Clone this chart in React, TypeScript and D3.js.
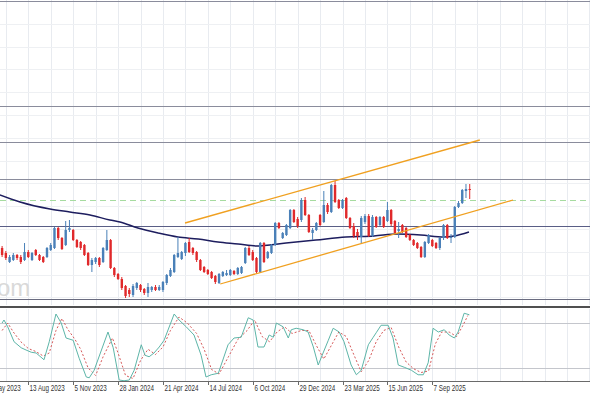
import React from 'react';
import * as d3 from 'd3';

const W = 590;
const H = 393;
const START = Date.UTC(2023, 5, 25);
const WEEK = 7 * 864e5;

// Weekly candles (price units)
const opens = [72,67,58,60,65,63,60,68,60,70,65,63,63,70,72,92,82,75,90,90,80,78,75,67,55,58,62,58,70,80,52,46,41,34,30,25,32,35,31,27,30,33,30,30,37,44,48,63,61,67,78,72,68,60,53,50,48,44,37,44,45,45,49,46,47,57,72,68,62,48,77,62,67,75,97,82,85,92,110,101,100,120,105,87,90,105,98,115,108,135,120,112,122,102,94,88,83,98,104,84,103,95,103,99,110,99,89,95,92,85,80,77,73,63,77,80,77,72,82,95,82,83,113,117,129,131];
const highs = [74,69,65,67,66,65,77,70,68,71,66,64,73,77,93,93,83,99,100,91,81,79,76,68,62,63,63,73,90,81,53,47,43,35,32,36,38,36,32,37,34,35,35,39,46,52,66,83,69,78,82,73,69,61,54,51,49,45,47,49,50,51,50,53,54,73,74,70,63,78,78,69,76,98,98,88,96,111,111,103,122,123,106,92,98,106,129,117,136,139,121,121,123,103,97,91,104,106,106,105,104,104,104,118,111,100,98,96,93,86,81,78,74,79,86,81,78,83,96,96,86,114,119,131,136,136];
const lows = [63,60,57,59,60,56,59,62,59,64,59,57,62,69,71,80,70,74,88,79,72,70,64,54,48,56,53,57,69,51,43,40,30,22,23,23,30,28,25,23,28,29,29,28,35,43,47,62,60,64,67,65,58,49,47,45,41,36,36,43,44,44,45,45,46,56,64,59,47,47,57,61,66,74,91,81,84,91,97,92,98,104,87,80,89,94,97,106,107,117,111,111,101,91,82,80,77,96,83,83,92,94,92,98,94,86,82,87,82,79,74,71,62,62,76,73,71,70,80,81,77,82,112,116,122,121];
const closes = [65,62,63,65,62,58,68,63,67,65,60,58,72,75,92,82,71,90,92,80,73,72,65,55,60,62,55,72,80,52,45,41,32,24,26,34,37,30,27,33,33,30,33,38,45,50,65,67,68,77,68,67,60,50,48,46,42,38,46,48,47,50,46,52,53,72,65,60,48,77,58,68,75,97,92,87,95,110,98,94,120,105,88,90,97,95,115,108,135,118,112,120,102,92,84,84,102,104,84,103,93,103,93,110,96,87,91,88,83,80,75,72,63,78,85,74,72,82,95,82,83,113,117,130,131,130];

// Moving average (week index, price)
const maWeeks = [-0.6,4.8,12.8,18.1,23.5,28.8,31.5,36.3,41.7,47,52.4,57.7,63.1,67.9,75.9,83.9,91.9,99.4,105.6,111.9,118.1,120.8,124.8];
const maValues = [125,118,111,108,105,100,98,92,87,83,81,78,76,74,77,80,83,84,86,85,83,84,88];

// Horizontal levels
const levelPrices = [319, 214, 178, 141, 94, 21];
const dashedLevelPrice = 120;

// Channel lines: [week, price]
const channelUpper = [[48.9, 97], [127.7, 180]];
const channelLower = [[58.3, 36], [136.6, 120]];

// Stochastic %K (week index, value)
const stochKWeeks = [0,0.5,1.5,3.2,5.1,6.4,7.8,9.1,11.2,12.6,14.4,15.8,17.1,19,20.6,22.5,23.3,24.6,28.3,29.7,31.3,32.6,34,35.3,37.2,38.2,39.3,40.6,42,43.3,46,47.3,49.2,51.3,53.2,54.5,55.9,57.8,60.4,62,63.9,65.8,67.1,68.4,70,71.4,72.5,73.3,75.1,76.5,77.3,78.6,80.5,81.8,83.2,84.5,85.8,87.2,88.5,90.1,91.4,93.3,94.7,96,97.9,99.2,100,101.3,103.2,104.5,105.9,107.5,109.4,111.2,112.6,113.9,115.2,116.6,118.2,119.5,120.9,121.9,123.5,124.9];
const stochKValues = [80,84,75,55,47,44,41,40,31,55,92,80,60,57,33,8,7,17,68,47,4,3,4,17,51,37,35,40,48,57,92,84,75,64,37,8,11,13,51,60,61,87,84,48,48,64,61,80,75,60,71,73,71,68,48,24,40,57,73,68,55,24,11,17,51,61,67,77,77,60,24,21,17,11,11,27,73,68,71,64,60,68,93,91];

// Stochastic %D
const stochDWeeks = [0,1.5,3,5,7,9,11,12.6,14.4,16,17.5,19.5,21,23,25,27,29.5,31,33,35,37,39,41,43,45,47.3,49.5,52,54,56,58,60.5,63,65.5,67.5,69.5,71.5,73.5,75.5,77.5,80,82,84,86,88,90,92,94,96,98,100,102,104,106,108,110,112,114,115.8,117.5,119.5,121.5,123,124.5];
const stochDValues = [70,80,68,55,46,42,36,40,70,86,72,58,45,20,10,35,60,40,10,6,30,45,38,48,70,88,80,66,45,18,12,35,58,70,84,62,55,68,75,66,70,70,50,32,50,68,62,38,15,30,55,70,74,48,28,19,14,16,52,68,68,62,75,90];

const stochLevels = [80, 20];

// Time axis labels
const tickLabels = ['21 May 2023','13 Aug 2023','5 Nov 2023','28 Jan 2024','21 Apr 2024','14 Jul 2024','6 Oct 2024','29 Dec 2024','23 Mar 2025','15 Jun 2025','7 Sep 2025'];

const parse = d3.utcParse('%d %b %Y');
const wDate = (w: number) => new Date(START + w * WEEK);

export default function App() {
  const n = closes.length;
  const x = d3.scaleUtc()
    .domain([wDate(0), wDate(125)])
    .range([2.1, 2.1 + 125 * 3.741]);
  const y = d3.scaleLinear().domain([0, 320]).range([320, 0]);
  const ys = d3.scaleLinear().domain([0, 100]).range([383, 308]);

  const gridWeeks = d3.range(-1, 27).map(k => 7 + 6 * k);
  const gridPrices = d3.range(1, 14).map(k => 319 - 22.8 * k);

  const bull = '#4a80b8';
  const bear = '#e0292b';
  const bw = 2.4;

  const maLine = d3.line<number>()
    .x((_, i) => x(wDate(maWeeks[i])))
    .y(d => y(d))
    .curve(d3.curveMonotoneX);

  const kLine = d3.line<number>()
    .x((_, i) => x(wDate(stochKWeeks[i])))
    .y(d => ys(d));
  const dLine = d3.line<number>()
    .x((_, i) => x(wDate(stochDWeeks[i])))
    .y(d => ys(d));

  const levelColors = ['#8a8c9c', '#8a8c9c', '#8a8c9c', '#8a8c9c', '#5a5e86', '#6a6c80'];

  return (
    <svg width={W} height={H} style={{ position: 'absolute', left: 0, top: 0, background: '#fff' }}>
      <rect x={0} y={0} width={W} height={H} fill="#fff" />
      {/* main pane grid */}
      {gridWeeks.map(w => (
        <line key={'gv' + w} x1={Math.round(x(wDate(w))) + 0.5} x2={Math.round(x(wDate(w))) + 0.5} y1={0} y2={305} stroke="#e8ebf0" />
      ))}
      {gridPrices.map(p => (
        <line key={'gh' + p} x1={0} x2={W} y1={Math.round(y(p)) + 0.5} y2={Math.round(y(p)) + 0.5} stroke="#eef0f3" />
      ))}
      {/* watermark */}
      <text x={-3} y={296} fontFamily="Liberation Sans, Arial, sans-serif" fontSize={24} fill="#d9d9d9">om</text>

      {/* levels */}
      {levelPrices.map((p, i) => (
        <line key={'lv' + i} x1={0} x2={W} y1={Math.round(y(p)) + 0.5} y2={Math.round(y(p)) + 0.5} stroke={levelColors[i]} strokeWidth={1} />
      ))}
      <line x1={0} x2={W} y1={Math.round(y(dashedLevelPrice)) + 0.5} y2={Math.round(y(dashedLevelPrice)) + 0.5} stroke="#a6dba0" strokeDasharray="6,4" strokeWidth={1} />

      {/* moving average */}
      <path d={maLine(maValues) || ''} fill="none" stroke="#1d1d5e" strokeWidth={1.5} />

      {/* candles */}
      {d3.range(n).map(i => {
        const cx = x(wDate(i));
        const up = closes[i] >= opens[i];
        const col = up ? bull : bear;
        const top = y(Math.max(opens[i], closes[i]));
        const bot = y(Math.min(opens[i], closes[i]));
        return (
          <g key={'c' + i}>
            <line x1={cx} x2={cx} y1={y(highs[i])} y2={y(lows[i])} stroke={col} strokeWidth={1} />
            <rect x={cx - bw / 2} y={top} width={bw} height={Math.max(1, bot - top)} fill={col} />
          </g>
        );
      })}

      {/* channel */}
      <line x1={x(wDate(channelUpper[0][0]))} y1={y(channelUpper[0][1])} x2={x(wDate(channelUpper[1][0]))} y2={y(channelUpper[1][1])} stroke="#f0a020" strokeWidth={1.3} />
      <line x1={x(wDate(channelLower[0][0]))} y1={y(channelLower[0][1])} x2={x(wDate(channelLower[1][0]))} y2={y(channelLower[1][1])} stroke="#f0a020" strokeWidth={1.3} />

      {/* separator */}
      <line x1={0} x2={W} y1={307} y2={307} stroke="#505050" strokeWidth={2} />

      {/* stochastic pane */}
      {gridWeeks.map(w => (
        <line key={'sv' + w} x1={Math.round(x(wDate(w))) + 0.5} x2={Math.round(x(wDate(w))) + 0.5} y1={309} y2={381} stroke="#e8ebf0" />
      ))}
      {stochLevels.map(l => (
        <line key={'sl' + l} x1={0} x2={W} y1={Math.round(ys(l)) + 0.5} y2={Math.round(ys(l)) + 0.5} stroke="#c4c6cc" />
      ))}
      <path d={dLine(stochDValues) || ''} fill="none" stroke="#d65a5a" strokeWidth={1} strokeDasharray="2,2" />
      <path d={kLine(stochKValues) || ''} fill="none" stroke="#5db5a8" strokeWidth={1} />

      {/* time axis */}
      <line x1={0} x2={W} y1={381.5} y2={381.5} stroke="#6a6a6a" />
      {tickLabels.map(t => {
        const tx = Math.round(x(parse(t) as Date)) + 0.5;
        return (
          <g key={t}>
            <line x1={tx} x2={tx} y1={381} y2={385} stroke="#6a6a6a" />
            <text transform={`translate(${tx + 1},391) scale(0.74,1)`} fontFamily="Liberation Sans, Arial, sans-serif" fontSize={8.5} fill="#333">{t}</text>
          </g>
        );
      })}
    </svg>
  );
}
